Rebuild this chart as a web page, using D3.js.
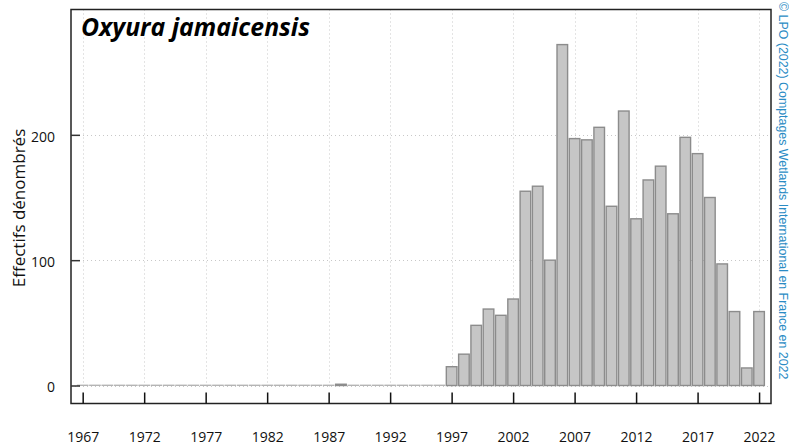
<!DOCTYPE html>
<html>
<head>
<meta charset="utf-8">
<script src="https://cdn.jsdelivr.net/npm/d3@7"></script>
<style>
  html, body { margin: 0; padding: 0; background: #fff; }
  svg { display: block; }
</style>
</head>
<body>
<svg id="chart" width="789" height="448"></svg>
<script>
const years = d3.range(1967, 2023);
const preValues = [0,0,0,0,0,0,0,0,0,0,0,0,0,0,0,0,0,0,0,0,0, 1, 0,0,0,0,0,0,0,0];
const recentValues = [15,25,48,61,56,69,155,159,100,272,197,196,206,143,219,133,164,175,137,198,185,150,97,59,14,59];
const values = preValues.concat(recentValues);
const xTickYears = [1967,1972,1977,1982,1987,1992,1997,2002,2007,2012,2017,2022];
const yTicks = [0,100,200];
const title = "Oxyura jamaicensis";
const yLabel = "Effectifs dénombrés";
const credit = "© LPO (2022) Comptages Wetlands International en France en 2022";

const data = years.map((y, i) => ({year: y, value: values[i]}));

const svg = d3.select("#chart");
const frame = {left: 71, top: 9.5, right: 771, bottom: 403.5};

const x = d3.scaleLinear().domain([1966.05, 2022.97]).range([frame.left, frame.right]);
const y = d3.scaleLinear().domain([0, 300]).range([385.5, frame.top]);

// grid
const grid = svg.append("g").attr("stroke", "#c8c8c8").attr("stroke-width", 1).attr("stroke-dasharray", "1,3");
grid.selectAll("line.v").data(xTickYears).join("line")
  .attr("x1", d => Math.round(x(d)) + 0.5).attr("x2", d => Math.round(x(d)) + 0.5)
  .attr("y1", frame.top).attr("y2", y(0) + 4);
grid.selectAll("line.h").data(yTicks).join("line")
  .attr("x1", frame.left).attr("x2", frame.right)
  .attr("y1", d => Math.round(y(d)) + 0.5).attr("y2", d => Math.round(y(d)) + 0.5);

// bars
const bw = 10.6;
svg.append("g").selectAll("rect").data(data).join("rect")
  .attr("x", d => x(d.year) - bw / 2)
  .attr("width", bw)
  .attr("y", d => Math.min(y(d.value), y(0) - 0.4))
  .attr("height", d => Math.max(y(0) - y(d.value), 0.4))
  .attr("fill", "#c6c6c6")
  .attr("stroke", d => d.value === 0 ? "#b4b4b4" : "#8c8c8c")
  .attr("stroke-width", d => d.value === 0 ? 1 : 1.4);

// frame
svg.append("rect")
  .attr("x", frame.left).attr("y", frame.top)
  .attr("width", frame.right - frame.left).attr("height", frame.bottom - frame.top)
  .attr("fill", "none").attr("stroke", "#222").attr("stroke-width", 1.5);

// x axis ticks & labels
const xAxis = d3.axisBottom(x).tickValues(xTickYears).tickFormat(d3.format("d")).tickSize(0).tickPadding(0);
const xg = svg.append("g").attr("transform", `translate(0,${frame.bottom})`).call(xAxis);
xg.select(".domain").remove();
xg.selectAll(".tick text").attr("y", 38.5).attr("dy", 0)
  .attr("font-family", "Open Sans").attr("font-size", 14).attr("fill", "#111");
xg.selectAll(".tick").append("line")
  .attr("x1", 0).attr("x2", 0).attr("y1", -11).attr("y2", 0)
  .attr("stroke", "#111").attr("stroke-width", 1.5);

// y axis ticks & labels
const yAxis = d3.axisLeft(y).tickValues(yTicks).tickFormat(d3.format("d")).tickSize(0).tickPadding(0);
const yg = svg.append("g").attr("transform", `translate(${frame.left},0)`).call(yAxis);
yg.select(".domain").remove();
yg.selectAll(".tick text").attr("x", -16).attr("dy", "0.45em")
  .attr("font-family", "Open Sans").attr("font-size", 14).attr("fill", "#111");
yg.selectAll(".tick").append("line")
  .attr("x1", 0).attr("x2", 9).attr("y1", 0).attr("y2", 0)
  .attr("stroke", "#333").attr("stroke-width", 1.5);

// y label
svg.append("text")
  .attr("transform", "translate(25,208) rotate(-90)")
  .attr("text-anchor", "middle")
  .attr("font-family", "Open Sans").attr("font-size", 17).attr("fill", "#111")
  .text(yLabel);

// title
svg.append("text")
  .attr("x", 81).attr("y", 36)
  .attr("font-family", "Open Sans").attr("font-size", 24.8).attr("font-weight", "bold").attr("font-style", "italic")
  .attr("fill", "#000")
  .text(title);

// credit
svg.append("text")
  .attr("transform", "translate(779,2) rotate(90)")
  .attr("text-anchor", "start")
  .attr("font-family", "Liberation Sans, Arial").attr("font-size", 12.4).attr("fill", "#2a8bc4")
  .attr("xml:space", "preserve")
  .text(credit);
</script>
</body>
</html>
